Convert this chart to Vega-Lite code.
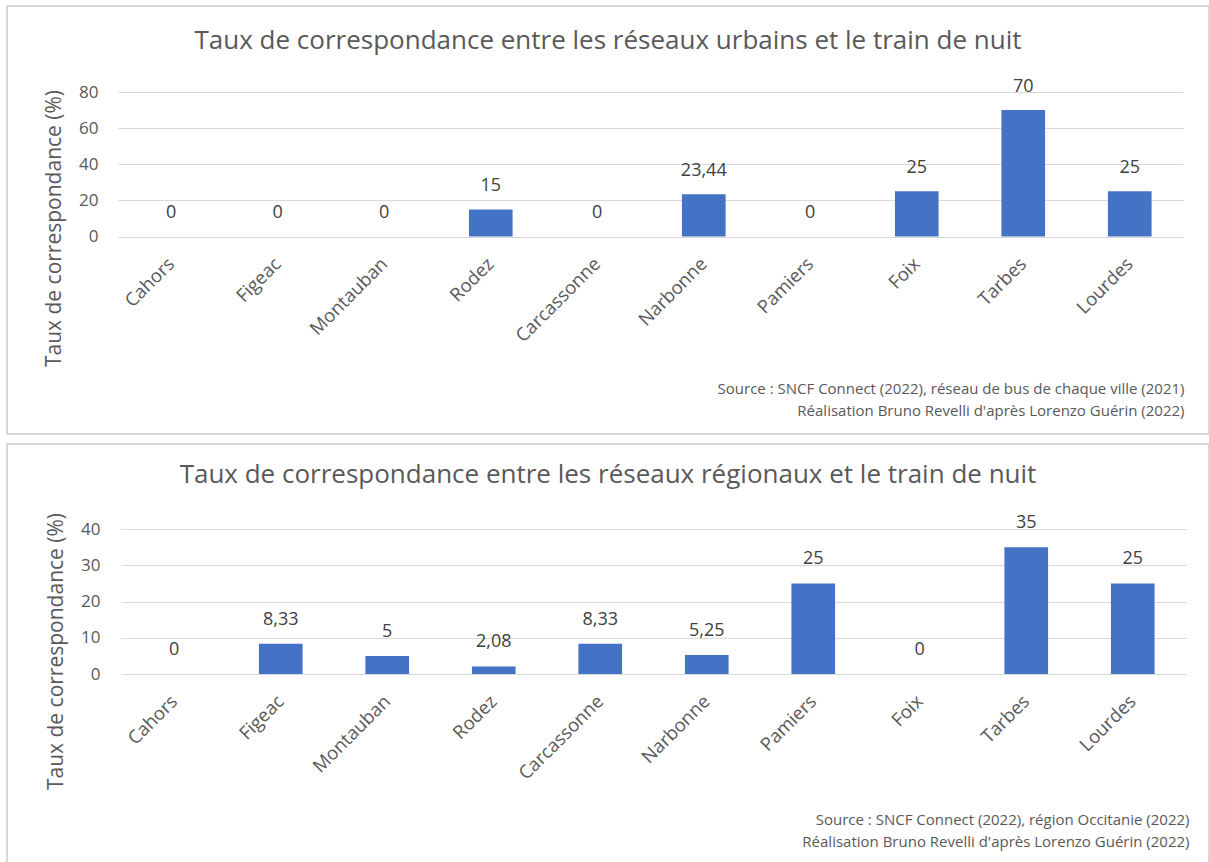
{
  "$schema": "https://vega.github.io/schema/vega-lite/v6.json",
  "padding": {"left": 6, "top": 5, "right": 0, "bottom": 0},
  "autosize": {"type": "pad"},
  "background": "white",
  "spacing": 8,
  "config": {
    "locale": {"number": {"decimal": ",", "thousands": " ", "grouping": [3], "currency": ["", " €"]}},
    "font": "Open Sans",
    "view": {"stroke": "#d9d9d9", "strokeWidth": 2},
    "axis": {"labelFont": "Open Sans", "titleFont": "Open Sans", "labelColor": "#595959", "titleColor": "#595959", "titleFontWeight": "normal", "gridColor": "#d9d9d9", "gridWidth": 1, "domain": false, "ticks": false, "tickSize": 0}
  },
  "datasets": {
    "urbain": [
      {"ville": "Cahors", "taux": 0},
      {"ville": "Figeac", "taux": 0},
      {"ville": "Montauban", "taux": 0},
      {"ville": "Rodez", "taux": 15},
      {"ville": "Carcassonne", "taux": 0},
      {"ville": "Narbonne", "taux": 23.44},
      {"ville": "Pamiers", "taux": 0},
      {"ville": "Foix", "taux": 25},
      {"ville": "Tarbes", "taux": 70},
      {"ville": "Lourdes", "taux": 25}
    ],
    "regional": [
      {"ville": "Cahors", "taux": 0},
      {"ville": "Figeac", "taux": 8.33},
      {"ville": "Montauban", "taux": 5},
      {"ville": "Rodez", "taux": 2.08},
      {"ville": "Carcassonne", "taux": 8.33},
      {"ville": "Narbonne", "taux": 5.25},
      {"ville": "Pamiers", "taux": 25},
      {"ville": "Foix", "taux": 0},
      {"ville": "Tarbes", "taux": 35},
      {"ville": "Lourdes", "taux": 25}
    ]
  },
  "vconcat": [
    {
      "width": 1202,
      "height": 428,
      "data": {"name": "urbain"},
      "title": {"text": "Taux de correspondance entre les réseaux urbains et le train de nuit", "frame": "group", "anchor": "middle", "offset": -61, "baseline": "middle", "fontSize": 26, "fontWeight": "normal", "color": "#595959", "font": "Open Sans"},
      "encoding": {
        "x": {
          "field": "ville", "type": "nominal", "sort": null,
          "scale": {"range": [111, 1176], "paddingInner": 0.59, "paddingOuter": 0.295},
          "axis": {
            "labelAngle": -45, "labelAlign": "right", "labelBaseline": "middle", "labelPadding": 24, "labelFontSize": 18.5,
            "offset": -197.5,
            "title": ["Source : SNCF Connect (2022), réseau de bus de chaque ville (2021)", "Réalisation Bruno Revelli d'après Lorenzo Guérin (2022)"],
            "titleFontSize": 15, "titleX": 1177, "titleY": 145, "titleAlign": "right", "titleBaseline": "top", "titleLineHeight": 22
          }
        },
        "y": {
          "field": "taux", "type": "quantitative",
          "scale": {"domain": [0, 80], "range": [230.5, 86], "nice": false},
          "axis": {
            "values": [0, 20, 40, 60, 80], "offset": -99, "labelPadding": 8, "labelFontSize": 17,
            "title": "Taux de correspondance (%)", "titleFontSize": 21, "titleX": -52, "titleY": 222, "titleAngle": -90, "titleAlign": "center", "titleBaseline": "middle"
          }
        }
      },
      "layer": [
        {"mark": {"type": "bar", "color": "#4472C4"}},
        {"mark": {"type": "text", "dy": -23.5, "baseline": "middle", "fontSize": 18, "color": "#404040", "font": "Open Sans"}, "encoding": {"text": {"field": "taux", "type": "quantitative", "format": "~g"}}}
      ]
    },
    {
      "width": 1202,
      "height": 420,
      "data": {"name": "regional"},
      "title": {"text": "Taux de correspondance entre les réseaux régionaux et le train de nuit", "frame": "group", "anchor": "middle", "offset": -57, "baseline": "middle", "fontSize": 26, "fontWeight": "normal", "color": "#595959", "font": "Open Sans"},
      "encoding": {
        "x": {
          "field": "ville", "type": "nominal", "sort": null,
          "scale": {"range": [114, 1179], "paddingInner": 0.59, "paddingOuter": 0.295},
          "axis": {
            "labelAngle": -45, "labelAlign": "right", "labelBaseline": "middle", "labelPadding": 24, "labelFontSize": 18.5,
            "offset": -190,
            "title": ["Source : SNCF Connect (2022), région Occitanie (2022)", "Réalisation Bruno Revelli d'après Lorenzo Guérin (2022)"],
            "titleFontSize": 15, "titleX": 1182, "titleY": 138, "titleAlign": "right", "titleBaseline": "top", "titleLineHeight": 22
          }
        },
        "y": {
          "field": "taux", "type": "quantitative",
          "scale": {"domain": [0, 40], "range": [230, 85], "nice": false},
          "axis": {
            "values": [0, 10, 20, 30, 40], "offset": -101, "labelPadding": 8, "labelFontSize": 17,
            "title": "Taux de correspondance (%)", "titleFontSize": 21, "titleX": -52, "titleY": 207, "titleAngle": -90, "titleAlign": "center", "titleBaseline": "middle"
          }
        }
      },
      "layer": [
        {"mark": {"type": "bar", "color": "#4472C4"}},
        {"mark": {"type": "text", "dy": -24, "baseline": "middle", "fontSize": 18, "color": "#404040", "font": "Open Sans"}, "encoding": {"text": {"field": "taux", "type": "quantitative", "format": "~g"}}}
      ]
    }
  ]
}
